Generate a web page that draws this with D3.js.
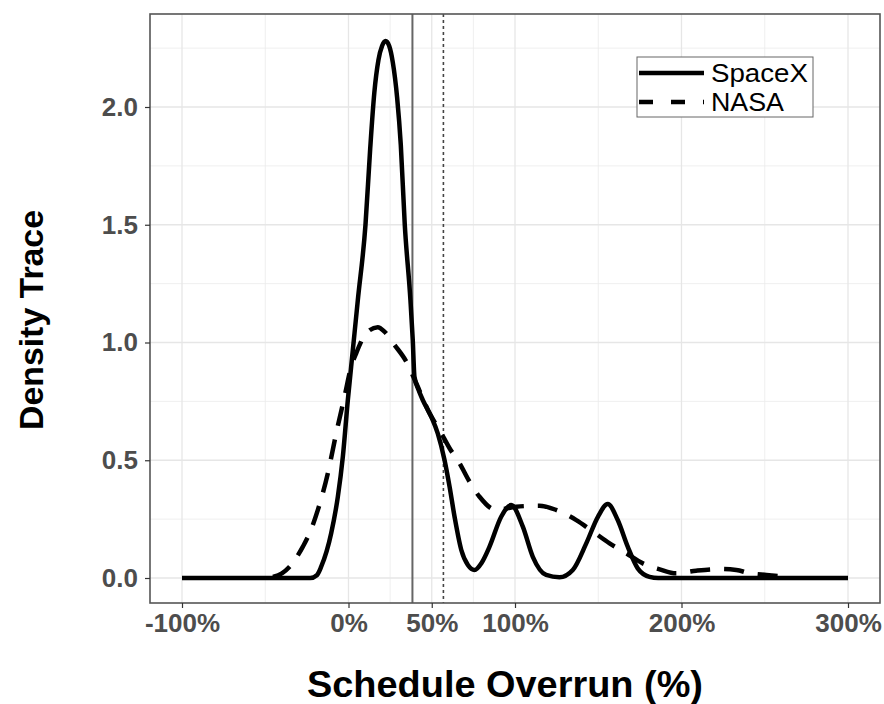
<!DOCTYPE html>
<html>
<head>
<meta charset="utf-8">
<script src="https://cdn.jsdelivr.net/npm/d3@7"></script>
<style>
  body { margin: 0; background: #fff; }
  svg { display: block; font-family: "Liberation Sans", Arial, sans-serif; }
</style>
</head>
<body>
<div id="chart"></div>
<script>
"use strict"
// Density traces (x = schedule overrun %, y = density)
var spacexX = [-100, -23, -19, -16.4, -10.4, -6.4, -3.4, -0.4, 2.6, 5.6, 10.2, 13, 15.5, 18, 20.2, 22.3, 24.4, 26.6, 29.2, 31.4, 33.8, 37.2, 38.6, 39.6, 42, 44.6, 49.7, 53.6, 57.7, 60.7, 63.7, 67.7, 71.7, 75.7, 80, 84.7, 91.7, 97.7, 104.7, 110.7, 118.7, 126.7, 134.7, 142.8, 149.8, 155.7, 161.7, 167.7, 173.7, 180.8, 186, 300];
var spacexY = [0, 0, 0.012, 0.048, 0.19, 0.345, 0.515, 0.756, 0.968, 1.18, 1.5, 1.82, 2.06, 2.2, 2.26, 2.28, 2.26, 2.19, 2.04, 1.84, 1.5, 1.18, 1.01, 0.855, 0.8, 0.756, 0.685, 0.614, 0.5, 0.388, 0.26, 0.12, 0.055, 0.034, 0.065, 0.133, 0.26, 0.31, 0.218, 0.09, 0.013, 0.003, 0.034, 0.147, 0.26, 0.314, 0.246, 0.133, 0.041, 0.005, 0, 0];

var nasaX = [-45.4, -40, -35.4, -27.4, -23.4, -18.4, -12.4, -7.4, -2.4, 1.6, 4.6, 10.6, 17.6, 21.6, 27.6, 34.7, 40.7, 48.6, 54.7, 60.7, 66.7, 72.7, 78.7, 88.7, 100.7, 114.7, 124.7, 136.8, 146.8, 156.8, 166.8, 176.8, 186.9, 196.8, 208.8, 222.9, 232.9, 241, 251, 259, 265];
var nasaY = [0.005, 0.02, 0.048, 0.133, 0.19, 0.289, 0.445, 0.614, 0.77, 0.897, 0.954, 1.039, 1.065, 1.046, 0.99, 0.919, 0.827, 0.70, 0.628, 0.551, 0.487, 0.409, 0.345, 0.289, 0.303, 0.307, 0.289, 0.246, 0.197, 0.147, 0.105, 0.062, 0.037, 0.02, 0.031, 0.038, 0.034, 0.02, 0.013, 0.008, 0.003];

var xBreaks = [-100, 0, 50, 100, 200, 300];
var xMinor = [-50, 25, 75, 150, 250];
var yBreaks = [0, 0.5, 1, 1.5, 2];
var yMinor = [0.25, 0.75, 1.25, 1.75, 2.25];
var vlineSolid = 38.4;   // solid reference line
var vlineDotted = 57;    // dotted reference line
var seriesNames = ["SpaceX", "NASA"];

var width = 884, height = 704;
var panel = { left: 150, right: 880, top: 14, bottom: 603 };

var x = d3.scaleLinear().domain([-100, 300]).range([182, 848]);
var y = d3.scaleLinear().domain([0, 2]).range([578, 107]);

var svg = d3.select("#chart").append("svg")
    .attr("width", width)
    .attr("height", height);

// grid
var grid = svg.append("g");
grid.selectAll(".vminor").data(xMinor).enter().append("line")
    .attr("x1", x).attr("x2", x)
    .attr("y1", panel.top).attr("y2", panel.bottom)
    .attr("stroke", "#ebebeb").attr("stroke-width", 0.8);
grid.selectAll(".hminor").data(yMinor).enter().append("line")
    .attr("x1", panel.left).attr("x2", panel.right)
    .attr("y1", y).attr("y2", y)
    .attr("stroke", "#ebebeb").attr("stroke-width", 0.8);
grid.selectAll(".vmajor").data(xBreaks).enter().append("line")
    .attr("x1", x).attr("x2", x)
    .attr("y1", panel.top).attr("y2", panel.bottom)
    .attr("stroke", "#e6e6e6").attr("stroke-width", 1.3);
grid.selectAll(".hmajor").data(yBreaks).enter().append("line")
    .attr("x1", panel.left).attr("x2", panel.right)
    .attr("y1", y).attr("y2", y)
    .attr("stroke", "#e6e6e6").attr("stroke-width", 1.3);

// reference lines
svg.append("line")
    .attr("x1", x(vlineSolid)).attr("x2", x(vlineSolid))
    .attr("y1", panel.top).attr("y2", panel.bottom)
    .attr("stroke", "#666").attr("stroke-width", 2);
svg.append("line")
    .attr("x1", x(vlineDotted)).attr("x2", x(vlineDotted))
    .attr("y1", panel.top).attr("y2", panel.bottom)
    .attr("stroke", "#444").attr("stroke-width", 1.6)
    .attr("stroke-dasharray", "3,3");

// curves
var line = d3.line()
    .x(function (d) { return x(d[0]); })
    .y(function (d) { return y(d[1]); })
    .curve(d3.curveMonotoneX);

var nasa = nasaX.map(function (v, i) { return [v, nasaY[i]]; });
var spacex = spacexX.map(function (v, i) { return [v, spacexY[i]]; });

svg.append("path").datum(nasa)
    .attr("fill", "none").attr("stroke", "#000")
    .attr("stroke-width", 4.5)
    .attr("stroke-dasharray", "20,14")
    .attr("d", line);
svg.append("path").datum(spacex)
    .attr("fill", "none").attr("stroke", "#000")
    .attr("stroke-width", 4.5)
    .attr("stroke-linejoin", "round")
    .attr("d", line);

// panel border
svg.append("rect")
    .attr("x", panel.left).attr("y", panel.top)
    .attr("width", panel.right - panel.left)
    .attr("height", panel.bottom - panel.top)
    .attr("fill", "none").attr("stroke", "#555").attr("stroke-width", 1.6);

// axes
var xAxis = d3.axisBottom(x).tickValues(xBreaks)
    .tickFormat(function (d) { return d + "%"; })
    .tickSize(5).tickPadding(6);
var yAxis = d3.axisLeft(y).tickValues(yBreaks)
    .tickFormat(d3.format(".1f"))
    .tickSize(5).tickPadding(7);

var gx = svg.append("g").attr("transform", "translate(0," + panel.bottom + ")").call(xAxis);
var gy = svg.append("g").attr("transform", "translate(" + panel.left + ",0)").call(yAxis);
[gx, gy].forEach(function (g) {
    g.select(".domain").remove();
    g.selectAll(".tick line").attr("stroke", "#333").attr("stroke-width", 1.2);
    g.selectAll(".tick text")
        .attr("fill", "#4d4d4d")
        .style("font-size", "26px")
        .style("font-weight", "bold");
});

// axis titles
svg.append("text")
    .attr("x", 505).attr("y", 697)
    .attr("text-anchor", "middle")
    .attr("textLength", 396).attr("lengthAdjust", "spacingAndGlyphs")
    .style("font-size", "36px").style("font-weight", "bold")
    .text("Schedule Overrun (%)");
svg.append("text")
    .attr("transform", "translate(43,320) rotate(-90)")
    .attr("text-anchor", "middle")
    .attr("textLength", 220).attr("lengthAdjust", "spacingAndGlyphs")
    .style("font-size", "33px").style("font-weight", "bold")
    .text("Density Trace");

// legend
var legend = svg.append("g").attr("transform", "translate(637,57)");
legend.append("rect")
    .attr("width", 176).attr("height", 60)
    .attr("fill", "#fff").attr("stroke", "#666").attr("stroke-width", 1);
var item = legend.selectAll(".item").data(seriesNames).enter().append("g")
    .attr("transform", function (d, i) { return "translate(0," + (16 + i * 29) + ")"; });
item.append("line")
    .attr("x1", 2).attr("x2", 67)
    .attr("stroke", "#000").attr("stroke-width", 4.5)
    .attr("stroke-dasharray", function (d, i) { return i ? "14,18" : null; });
item.append("text")
    .attr("x", 74).attr("y", 9)
    .attr("textLength", function (d, i) { return i ? 73 : 97; })
    .attr("lengthAdjust", "spacingAndGlyphs")
    .style("font-size", "25px")
    .text(function (d) { return d; });
</script>
</body>
</html>
